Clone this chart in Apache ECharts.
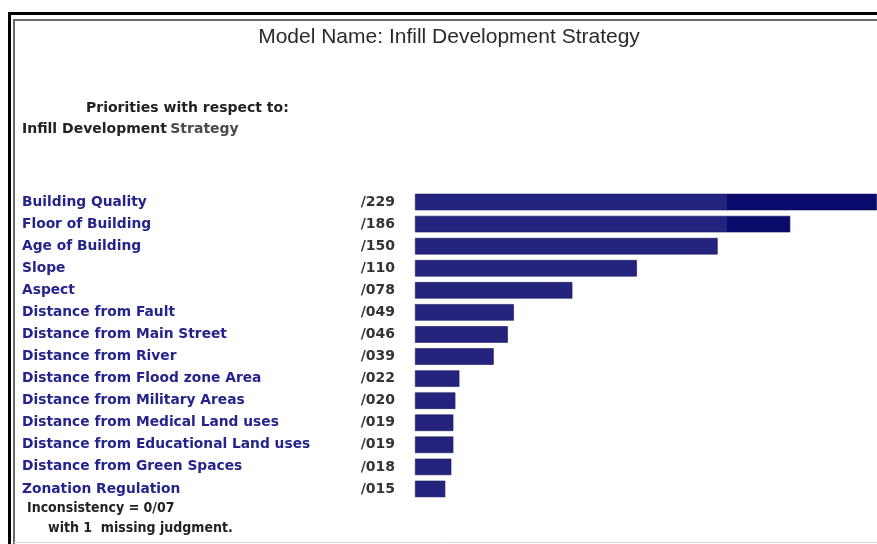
<!DOCTYPE html>
<html>
<head>
<meta charset="utf-8">
<title>Infill Development Strategy</title>
<script src="https://cdn.jsdelivr.net/npm/echarts@6/dist/echarts.min.js"></script>
<style>
  html, body { margin: 0; padding: 0; background: #fff; }
  #chart { width: 877px; height: 544px; }
</style>
</head>
<body>
<div id="chart"></div>
<script>
// criteria, top to bottom
const criteria = [
  "Building Quality",
  "Floor of Building",
  "Age of Building",
  "Slope",
  "Aspect",
  "Distance from Fault",
  "Distance from Main Street",
  "Distance from River",
  "Distance from Flood zone Area",
  "Distance from Military Areas",
  "Distance from Medical Land uses",
  "Distance from Educational Land uses",
  "Distance from Green Spaces",
  "Zonation Regulation"
];
// priority weights
const weights = [0.229, 0.186, 0.150, 0.110, 0.078, 0.049, 0.046, 0.039, 0.022, 0.020, 0.019, 0.019, 0.018, 0.015];
const inconsistency = 0.07;

// "/229" style (slash used as decimal mark)
function fmt(v, digits) {
  return "/" + String(Math.round(v * Math.pow(10, digits))).padStart(digits, "0");
}

const font = "DejaVu Sans";
const chart = echarts.init(document.getElementById("chart"));

chart.setOption({
  backgroundColor: "#fff",
  animation: false,
  title: {
    text: "Model Name: Infill Development Strategy",
    left: 444,
    top: 22,
    textAlign: "center",
    textStyle: { fontFamily: "Liberation Sans", fontWeight: "normal", fontSize: 21, color: "#2a2a2a" }
  },
  grid: { left: 415, right: 0, top: 191, bottom: 44, containLabel: false },
  xAxis: {
    type: "value",
    min: 0,
    max: 0.229,
    show: false
  },
  yAxis: {
    type: "category",
    data: criteria,
    inverse: true,
    axisLine: { show: false },
    axisTick: { show: false },
    splitLine: { show: false },
    axisLabel: {
      align: "left",
      margin: 393,
      formatter: function (name, i) {
        return "{n|" + name + "}{v|" + fmt(weights[i], 3) + "}";
      },
      rich: {
        n: { width: 335, fontFamily: font, fontWeight: "bold", fontSize: 13.8, color: "#24248c" },
        v: { width: 38, align: "right", fontFamily: font, fontWeight: "bold", fontSize: 14, color: "#333" }
      }
    }
  },
  series: [{
    type: "bar",
    data: weights,
    barWidth: 16.5,
    itemStyle: {
      // scan is darker right of x≈727
      color: {
        type: "linear", x: 0, y: 0, x2: 877, y2: 0, global: true,
        colorStops: [
          { offset: 0, color: "#24247f" },
          { offset: 0.829, color: "#24247f" },
          { offset: 0.829, color: "#0a0a6c" },
          { offset: 1, color: "#0a0a6c" }
        ]
      },
      borderColor: "#15155e",
      borderWidth: 0.6
    }
  }],
  graphic: [
    // frame
    { type: "line", shape: { x1: 8, y1: 13.5, x2: 877, y2: 13.5 }, style: { stroke: "#000", lineWidth: 3 } },
    { type: "line", shape: { x1: 9.5, y1: 12, x2: 9.5, y2: 544 }, style: { stroke: "#000", lineWidth: 3 } },
    { type: "line", shape: { x1: 13, y1: 20, x2: 877, y2: 20 }, style: { stroke: "#6a6a6a", lineWidth: 2 } },
    { type: "line", shape: { x1: 14, y1: 19, x2: 14, y2: 544 }, style: { stroke: "#6a6a6a", lineWidth: 2 } },
    { type: "line", shape: { x1: 14, y1: 542.5, x2: 877, y2: 542.5 }, style: { stroke: "#d8d8d8", lineWidth: 1 } },
    // heading
    {
      type: "text", left: 86, top: 101,
      style: { text: "Priorities with respect to:", font: "bold 14px 'DejaVu Sans'", fill: "#222" }
    },
    {
      type: "text", left: 22, top: 122,
      style: {
        text: "{a|Infill Development} {b|Strategy}",
        rich: {
          a: { fontFamily: font, fontWeight: "bold", fontSize: 14, fill: "#222" },
          b: { fontFamily: font, fontWeight: "bold", fontSize: 14, fill: "#4a4a4a" }
        }
      }
    },
    // footer
    {
      type: "text", left: 27, top: 501,
      style: { text: "Inconsistency = 0" + fmt(inconsistency, 2), font: "bold 14px 'DejaVu Sans Condensed'", fill: "#222" }
    },
    {
      type: "text", left: 48, top: 521,
      style: { text: "with 1  missing judgment.", font: "bold 14px 'DejaVu Sans Condensed'", fill: "#222" }
    }
  ]
});
</script>
</body>
</html>
